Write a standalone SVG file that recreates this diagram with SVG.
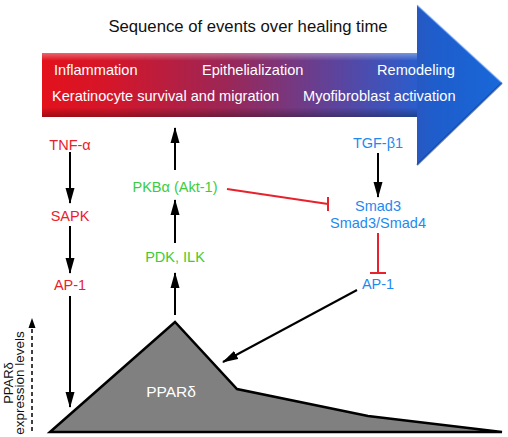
<svg xmlns="http://www.w3.org/2000/svg" width="508" height="437" viewBox="0 0 508 437">
<defs>
<linearGradient id="hg" x1="42" y1="0" x2="502" y2="0" gradientUnits="userSpaceOnUse">
<stop offset="0" stop-color="#e3111c"/>
<stop offset="0.15" stop-color="#d4162a"/>
<stop offset="0.4" stop-color="#9c2656"/>
<stop offset="0.65" stop-color="#5a45a0"/>
<stop offset="0.85" stop-color="#2162d6"/>
<stop offset="1" stop-color="#1a6ee6"/>
</linearGradient>
<linearGradient id="vg" x1="0" y1="53" x2="0" y2="117" gradientUnits="userSpaceOnUse">
<stop offset="0" stop-color="#ffffff" stop-opacity="0.35"/>
<stop offset="0.12" stop-color="#ffffff" stop-opacity="0"/>
<stop offset="0.85" stop-color="#000000" stop-opacity="0"/>
<stop offset="1" stop-color="#000000" stop-opacity="0.3"/>
</linearGradient>
<marker id="ah" markerUnits="userSpaceOnUse" markerWidth="16" markerHeight="10" refX="15" refY="5" orient="auto">
<path d="M0,0.5 L16,5 L0,9.5 z" fill="#000"/>
</marker>
</defs>
<style>
text{font-family:"Liberation Sans",Arial,sans-serif}
.t{font-size:14.5px;text-anchor:middle}
.red{fill:#e8222c}
.grn{fill:#3ccc3c}
.blu{fill:#1e8af0}
.w{fill:#fff;font-size:14.6px}
.c{stroke:#000;stroke-width:2;fill:none}
.inh{stroke:#e8222c;stroke-width:2;fill:none}
</style>
<g id="timeline">
<path d="M42,53 H417 V5 L502,83 L417,165 V117 H42 Z" fill="url(#hg)"/>
<path d="M42,53 H417 V117 H42 Z" fill="url(#vg)"/>
<path d="M417,5 L502,83 L417,165 Z" fill="#000" fill-opacity="0.05"/>
<path d="M417,5 L502,83" stroke="#7fb0ff" stroke-width="1.5" fill="none" opacity="0.6"/>
<path d="M502,83 L417,165" stroke="#0a3a90" stroke-width="2" fill="none" opacity="0.6"/>
<text x="248" y="32" font-size="16.7" text-anchor="middle" fill="#111">Sequence of events over healing time</text>
<text x="54" y="75" class="w">Inflammation</text>
<text x="202" y="75" class="w">Epithelialization</text>
<text x="377" y="75" class="w">Remodeling</text>
<text x="52" y="101" class="w">Keratinocyte survival and migration</text>
<text x="303" y="101" class="w">Myofibroblast activation</text>
</g>
<g id="tnf"><text x="70" y="150" class="t red">TNF-α</text></g>
<g id="sapk"><text x="70" y="221" class="t red">SAPK</text></g>
<g id="ap1-red"><text x="70" y="290" class="t red">AP-1</text></g>
<g id="pkb"><text x="175" y="192" class="t grn">PKBα (Akt-1)</text></g>
<g id="pdk"><text x="175" y="262" class="t grn">PDK, ILK</text></g>
<g id="tgf"><text x="378" y="148" class="t blu">TGF-β1</text></g>
<g id="smad"><text x="378" y="211" class="t blu">Smad3</text><text x="378" y="228" class="t blu">Smad3/Smad4</text></g>
<g id="ap1-blue"><text x="378" y="289" class="t blu">AP-1</text></g>
<g id="ppar">
<path d="M50,432 L175,322 L237,389 L368,416 L502,432 Z" fill="#808080" stroke="#000" stroke-width="2.5" stroke-linejoin="miter"/>
<text x="171" y="397" font-size="15.5" text-anchor="middle" fill="#fff">PPARδ</text>
</g>
<g id="axis">
<text transform="translate(13,383) rotate(-90)" font-size="13" text-anchor="middle" fill="#111">PPARδ</text>
<text transform="translate(23.5,383) rotate(-90)" font-size="13.5" text-anchor="middle" fill="#111">expression levels</text>
<path d="M32,431 V326" stroke="#000" stroke-width="1.5" stroke-dasharray="4,3" fill="none"/>
<path d="M28.5,328 L32,318 L35.5,328 z" fill="#000"/>
</g>
<g id="connectors">
<path class="c" d="M70,152 V203" marker-end="url(#ah)"/>
<path class="c" d="M70,226 V273" marker-end="url(#ah)"/>
<path class="c" d="M70,296 V407" marker-end="url(#ah)"/>
<path class="c" d="M175,315 V273" marker-end="url(#ah)"/>
<path class="c" d="M175,243 V200" marker-end="url(#ah)"/>
<path class="c" d="M175,170 V128" marker-end="url(#ah)"/>
<path class="c" d="M378,153 V197" marker-end="url(#ah)"/>
<path class="c" d="M357,290 L223,362" marker-end="url(#ah)"/>
<path class="inh" d="M227,189 L328,204 M328,197 V211"/>
<path class="inh" d="M378,233 V273 M370,273 H386"/>
</g>
</svg>
